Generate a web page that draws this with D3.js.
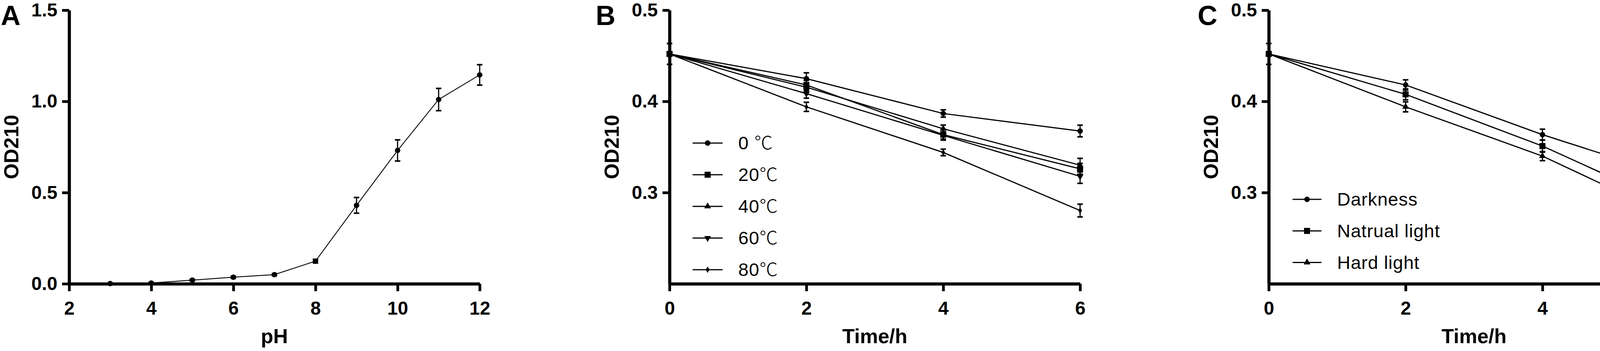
<!DOCTYPE html>
<html lang="en">
<head>
    <meta charset="UTF-8">
    <title>OD210 stability</title>
    <script src="https://d3js.org/d3.v7.min.js"></script>
    <style>
        body { margin: 0; background: #fff; overflow: hidden; }
        svg { display: block; }
        .tick text { font-family: "Liberation Sans", Arial, sans-serif; font-weight: bold; font-size: 48px; fill: #000; }
        .axis-title { font-family: "Liberation Sans", Arial, sans-serif; font-weight: bold; font-size: 52px; }
        .panel-letter { font-family: "Liberation Sans", Arial, sans-serif; font-weight: bold; font-size: 70px; }
        .legend text { font-family: "Liberation Sans", Arial, sans-serif; font-size: 47px; letter-spacing: 1px; }
        .legend .deg { font-family: "Noto Sans CJK SC", sans-serif; font-weight: 300; letter-spacing: 0; }
    </style>
</head>
<body>
<svg id="chart" width="4317" height="898"></svg>
<script>
    // Panel A: pH
    const phValues = [3, 4, 5, 6, 7, 8, 9, 10, 11, 12];
    const phOD = [0.001, 0.004, 0.02, 0.036, 0.05, 0.124, 0.43, 0.731, 1.01, 1.145];
    const phSD = [0.003, 0.004, 0.005, 0.006, 0.006, 0.01, 0.043, 0.058, 0.061, 0.056];
    const phTicks = [2, 4, 6, 8, 10, 12];
    const phYTicks = [0, 0.5, 1.0, 1.5];

    // Panels B and C: time
    const timePoints = [0, 2, 4, 6];
    const timeYTicks = [0.3, 0.4, 0.5];

    // Panel B: temperature
    const tempLabels = ["0 ", "20", "40", "60", "80"];
    const od0C = [0.452, 0.4249, 0.3867, 0.3675];
    const sd0C = [0.0115, 0.0064, 0.004, 0.0064];
    const od20C = [0.452, 0.418, 0.3635, 0.326];
    const sd20C = [0.0115, 0.005, 0.006, 0.006];
    const od40C = [0.452, 0.4155, 0.370, 0.330];
    const sd40C = [0.0115, 0.004, 0.004, 0.0075];
    const od60C = [0.452, 0.4085, 0.3627, 0.3178];
    const sd60C = [0.0115, 0.005, 0.004, 0.0077];
    const od80C = [0.452, 0.394, 0.344, 0.2803];
    const sd80C = [0.0115, 0.005, 0.0036, 0.007];

    // Panel C: light
    const lightLabels = ["Darkness", "Natrual light", "Hard light"];
    const odDark = [0.452, 0.418, 0.3635, 0.3153];
    const sdDark = [0.0115, 0.0056, 0.006, 0.0072];
    const odNatural = [0.452, 0.4077, 0.351, 0.2829];
    const sdNatural = [0.0115, 0.006, 0.0067, 0.003];
    const odHard = [0.452, 0.394, 0.340, 0.2697];
    const sdHard = [0.0115, 0.0055, 0.005, 0.0054];

    const svg = d3.select("#chart");
    const plotTop = 26, plotBottom = 726, plotW = 1051;

    const symbols = {
        circle: d3.symbol().type(d3.symbolCircle).size(154),
        square: d3.symbol().type(d3.symbolSquare).size(240),
        triangle: d3.symbol().type(d3.symbolTriangle).size(130),
        down: d3.symbol().type(d3.symbolTriangle).size(130),
        diamond: d3.symbol().type(d3.symbolDiamond).size(80)
    };

    function drawPanel(cfg) {
        const x = d3.scaleLinear().domain(cfg.xDomain).range([cfg.left, cfg.left + plotW]);
        const y = d3.scaleLinear().domain(cfg.yDomain).range([plotBottom, plotTop]);

        const g = svg.append("g");

        // series
        cfg.series.forEach(s => {
            const pts = cfg.xs.map((xv, i) => ({x: xv, y: s.values[i], e: s.errors[i]}));
            g.append("path")
                .datum(pts)
                .attr("fill", "none")
                .attr("stroke", "#000")
                .attr("stroke-width", cfg.lineWidth)
                .attr("d", d3.line().x(d => x(d.x)).y(d => y(d.y)));

            const eb = g.append("g");
            pts.forEach(d => {
                const x0 = x(d.x), yt = y(d.y + d.e), yb = y(d.y - d.e);
                eb.append("line").attr("x1", x0).attr("x2", x0).attr("y1", yt).attr("y2", yb)
                    .attr("stroke", "#000").attr("stroke-width", 3);
                [yt, yb].forEach(yy => eb.append("line")
                    .attr("x1", x0 - 7).attr("x2", x0 + 7).attr("y1", yy).attr("y2", yy)
                    .attr("stroke", "#000").attr("stroke-width", 4));
            });

            g.selectAll(null).data(pts).enter().append("path")
                .attr("d", symbols[s.shape]())
                .attr("fill", "#000")
                .attr("transform", d => `translate(${x(d.x)},${y(d.y)})` + (s.shape === "down" ? " rotate(180)" : ""));
        });

        // axes
        const yAxis = g.append("g")
            .attr("transform", `translate(${cfg.left},0)`)
            .call(d3.axisLeft(y).tickValues(cfg.yTicks).tickFormat(d3.format(".1f"))
                .tickSize(18).tickPadding(12).tickSizeOuter(0));
        const xAxis = g.append("g")
            .attr("transform", `translate(0,${plotBottom})`)
            .call(d3.axisBottom(x).tickValues(cfg.xTicks).tickFormat(d3.format("d"))
                .tickSize(19).tickPadding(26).tickSizeOuter(0));
        [yAxis, xAxis].forEach(a => {
            a.select(".domain").attr("stroke-width", 8);
            a.selectAll(".tick line").attr("stroke-width", 7);
        });

        // titles
        g.append("text").attr("class", "axis-title")
            .attr("text-anchor", "middle")
            .attr("x", cfg.left + plotW / 2).attr("y", 878)
            .text(cfg.xTitle);
        g.append("text").attr("class", "axis-title")
            .attr("text-anchor", "middle")
            .attr("transform", `translate(${cfg.left - 130},${(plotTop + plotBottom) / 2}) rotate(-90)`)
            .text("OD210");
        g.append("text").attr("class", "panel-letter")
            .attr("x", cfg.left - cfg.letterOffset).attr("y", 64)
            .text(cfg.letter);

        // legend
        if (cfg.legend) {
            const lg = g.append("g").attr("class", "legend");
            cfg.series.forEach((s, i) => {
                const yy = cfg.legend.y + i * cfg.legend.step;
                const lx = cfg.legend.x;
                lg.append("line").attr("x1", lx).attr("x2", lx + cfg.legend.len)
                    .attr("y1", yy).attr("y2", yy)
                    .attr("stroke", "#000").attr("stroke-width", 3);
                lg.append("path").attr("d", symbols[s.shape]())
                    .attr("transform", `translate(${lx + cfg.legend.len / 2},${yy})` + (s.shape === "down" ? " rotate(180)" : ""));
                const t = lg.append("text")
                    .attr("x", lx + cfg.legend.len + 40).attr("y", yy + 16);
                t.append("tspan").text(s.label);
                if (cfg.legend.degree) t.append("tspan").attr("class", "deg").text("℃");
            });
        }
    }

    drawPanel({
        left: 177, letter: "A", letterOffset: 175,
        xDomain: [2, 12], yDomain: [0, 1.5],
        xTicks: phTicks, yTicks: phYTicks, xs: phValues,
        xTitle: "pH", lineWidth: 2.2,
        series: [{label: "pH", shape: "circle", values: phOD, errors: phSD}]
    });

    drawPanel({
        left: 1714, letter: "B", letterOffset: 189,
        xDomain: [0, 6], yDomain: [0.2, 0.5],
        xTicks: timePoints, yTicks: timeYTicks, xs: timePoints,
        xTitle: "Time/h", lineWidth: 3,
        legend: {x: 1773, y: 366, step: 81, len: 77, degree: true},
        series: [
            {label: tempLabels[0], shape: "circle", values: od0C, errors: sd0C},
            {label: tempLabels[1], shape: "square", values: od20C, errors: sd20C},
            {label: tempLabels[2], shape: "triangle", values: od40C, errors: sd40C},
            {label: tempLabels[3], shape: "down", values: od60C, errors: sd60C},
            {label: tempLabels[4], shape: "diamond", values: od80C, errors: sd80C}
        ]
    });

    drawPanel({
        left: 3248, letter: "C", letterOffset: 182,
        xDomain: [0, 6], yDomain: [0.2, 0.5],
        xTicks: timePoints, yTicks: timeYTicks, xs: timePoints,
        xTitle: "Time/h", lineWidth: 3,
        legend: {x: 3309, y: 510, step: 80.8, len: 74, degree: false},
        series: [
            {label: lightLabels[0], shape: "circle", values: odDark, errors: sdDark},
            {label: lightLabels[1], shape: "square", values: odNatural, errors: sdNatural},
            {label: lightLabels[2], shape: "triangle", values: odHard, errors: sdHard}
        ]
    });
</script>
</body>
</html>
